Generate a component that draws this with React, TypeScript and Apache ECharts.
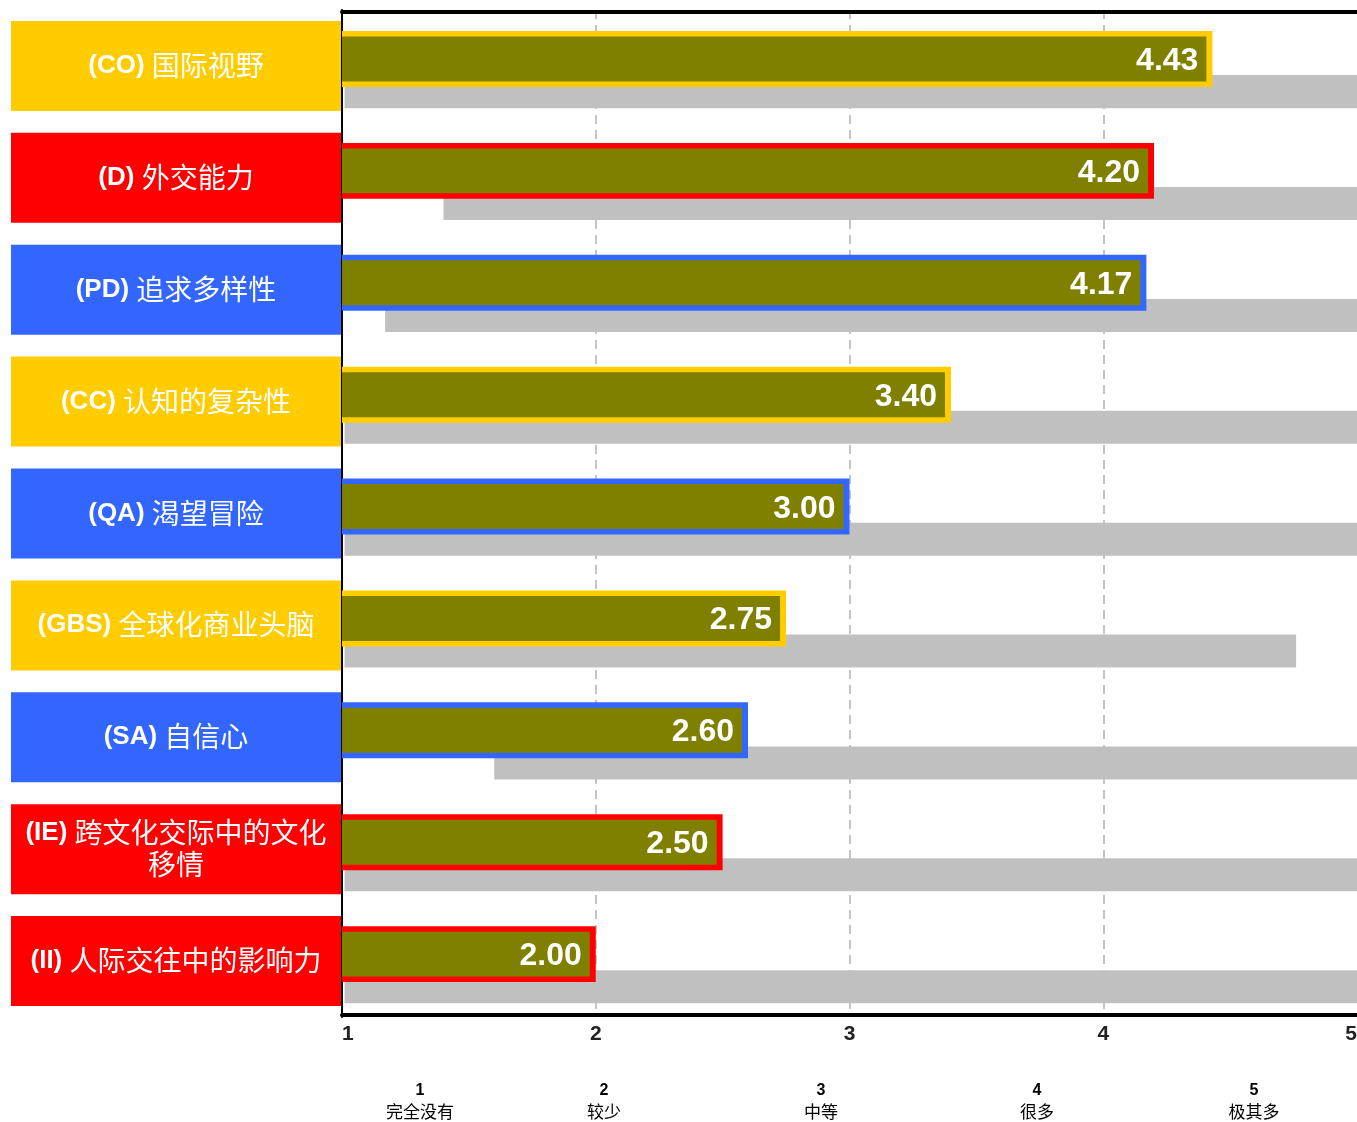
import React, { useEffect, useRef } from "react";
import * as echarts from "echarts";

const codes = ["(CO)", "(D)", "(PD)", "(CC)", "(QA)", "(GBS)", "(SA)", "(IE)", "(II)"];
const names = ["国际视野", "外交能力", "追求多样性", "认知的复杂性", "渴望冒险", "全球化商业头脑", "自信心", "跨文化交际中的文化\n移情", "人际交往中的影响力"];
const colorGroups = ["yellow", "red", "blue", "yellow", "blue", "yellow", "blue", "red", "red"];
const meanValues = [4.43, 4.2, 4.17, 3.4, 3.0, 2.75, 2.6, 2.5, 2.0];
const rangeMin = [1.01, 1.4, 1.17, 1.01, 1.01, 1.01, 1.6, 1.01, 1.01];
const rangeMax = [5, 5, 5, 5, 5, 4.76, 5, 5, 5];
const scaleTicks = ["1", "2", "3", "4", "5"];
const scaleNames = ["完全没有", "较少", "中等", "很多", "极其多"];

const palette: Record<string, string> = { yellow: "#FFCC00", red: "#FF0000", blue: "#3366FF" };
const OLIVE = "#808000";
const GRAY = "#C0C0C0";
const LATIN = "'Liberation Sans', Arial, sans-serif";
const CJK = "'Noto Sans CJK SC', 'Liberation Sans', sans-serif";

export default function App() {
  const ref = useRef<HTMLDivElement>(null);
  useEffect(() => {
    document.body.style.margin = "0";
    if (!ref.current) return;
    const chart = echarts.init(ref.current, undefined, { renderer: "svg", width: 1357, height: 1122 });
    const catIdx = codes.map((_, i) => String(i));

    const labelData = codes.map((c, i) => ({
      value: 1,
      name: c,
      itemStyle: { color: palette[colorGroups[i]] },
    }));
    const grayData = codes.map((_, i) => [i, rangeMin[i], rangeMax[i]]);
    const meanData = codes.map((_, i) => [i, 1, meanValues[i], colorGroups[i]]);

    const scaleCenters = [420, 604, 821, 1037, 1254];

    const option: any = {
      animation: false,
      grid: [
        { left: 342, width: 1015, top: 10, bottom: 105, outerBoundsMode: "none", containLabel: false },
        { left: 11, width: 330, top: 10, bottom: 105, outerBoundsMode: "none", containLabel: false },
      ],
      xAxis: [
        {
          gridIndex: 0,
          type: "value",
          min: 1,
          max: 5,
          interval: 1,
          position: "bottom",
          offset: -2,
          axisLine: { show: true, lineStyle: { color: "#000", width: 4 } },
          axisTick: { show: false },
          axisLabel: {
            margin: 7,
            fontSize: 21,
            fontWeight: "bold",
            color: "#222",
            fontFamily: LATIN,
            alignMinLabel: "left",
            alignMaxLabel: "right",
            formatter: (v: number) => scaleTicks[Math.round(v) - 1] ?? "",
          },
          splitLine: {
            show: true,
            showMinLine: false,
            showMaxLine: false,
            lineStyle: { color: "#C4C4C4", width: 2, type: [9, 6] },
          },
        },
        {
          gridIndex: 0,
          type: "value",
          min: 1,
          max: 5,
          position: "top",
          offset: -2,
          axisLine: { show: true, lineStyle: { color: "#000", width: 4 } },
          axisTick: { show: false },
          axisLabel: { show: false },
          splitLine: { show: false },
        },
        {
          gridIndex: 1,
          type: "value",
          min: 0,
          max: 1,
          show: false,
        },
      ],
      yAxis: [
        {
          gridIndex: 0,
          type: "category",
          data: catIdx,
          inverse: true,
          axisLine: { show: true, lineStyle: { color: "#000", width: 2 } },
          axisTick: { show: false },
          axisLabel: { show: false },
          splitLine: { show: false },
        },
        {
          gridIndex: 1,
          type: "category",
          data: catIdx,
          inverse: true,
          show: false,
        },
      ],
      series: [
        {
          type: "bar",
          xAxisIndex: 2,
          yAxisIndex: 1,
          barWidth: 90,
          data: labelData,
          label: {
            show: true,
            position: "inside",
            offset: [0, -2],
            formatter: (p: any) => `{c|${codes[p.dataIndex]} }{n|${names[p.dataIndex].split("\n").join("}\n{n|")}}`,
            rich: {
              c: { fontFamily: LATIN, fontWeight: "bold", fontSize: 26, color: "#fff", lineHeight: 32 },
              n: { fontFamily: CJK, fontWeight: "normal", fontSize: 28, color: "#fff", lineHeight: 32 },
            },
            align: "center",
          },
        },
        {
          type: "custom",
          xAxisIndex: 0,
          yAxisIndex: 0,
          encode: { x: [1, 2], y: 0 },
          data: grayData,
          renderItem: (params: any, api: any) => {
            const idx = api.value(0);
            const p0 = api.coord([api.value(1), idx]);
            const p1 = api.coord([api.value(2), idx]);
            const band = api.size([0, 1])[1];
            const top = p0[1] - band / 2;
            return {
              type: "rect",
              shape: { x: p0[0], y: top + band * 0.582, width: p1[0] - p0[0], height: band * 0.295 },
              style: { fill: GRAY },
            };
          },
          z: 2,
        },
        {
          type: "custom",
          xAxisIndex: 0,
          yAxisIndex: 0,
          encode: { x: [1, 2], y: 0 },
          data: meanData,
          renderItem: (params: any, api: any) => {
            const i = params.dataIndex;
            const idx = api.value(0);
            const p0 = api.coord([api.value(1), idx]);
            const p1 = api.coord([api.value(2), idx]);
            const band = api.size([0, 1])[1];
            const top = p0[1] - band / 2;
            const oy = top + band * 0.188;
            const oh = band * 0.5;
            const bw = 5.5;
            const x0 = p0[0];
            const w = p1[0] - p0[0];
            return {
              type: "group",
              children: [
                { type: "rect", shape: { x: x0, y: oy, width: w, height: oh }, style: { fill: palette[colorGroups[i]] } },
                { type: "rect", shape: { x: x0, y: oy + bw, width: w - bw - 0.5, height: oh - 2 * bw }, style: { fill: OLIVE } },
                {
                  type: "text",
                  style: {
                    text: meanValues[i].toFixed(2),
                    x: p1[0] - 14,
                    y: oy + oh / 2,
                    align: "right",
                    verticalAlign: "middle",
                    fill: "#fff",
                    fontSize: 32,
                    fontWeight: "bold",
                    fontFamily: LATIN,
                  },
                },
              ],
            };
          },
          z: 3,
        },
      ],
      graphic: scaleNames.map((n, i) => ({
        type: "text",
        x: scaleCenters[i],
        y: 1100,
        style: {
          text: `{t|${scaleTicks[i]}}\n{n|${n}}`,
          align: "center",
          verticalAlign: "middle",
          rich: {
            t: { fontFamily: LATIN, fontWeight: "bold", fontSize: 16, color: "#111", lineHeight: 21, align: "center" },
            n: { fontFamily: CJK, fontSize: 17, color: "#333", lineHeight: 21, align: "center" },
          },
        },
      })),
    };
    chart.setOption(option);
    return () => chart.dispose();
  }, []);
  return <div ref={ref} style={{ position: "fixed", left: 0, top: 0, width: 1357, height: 1122 }} />;
}
